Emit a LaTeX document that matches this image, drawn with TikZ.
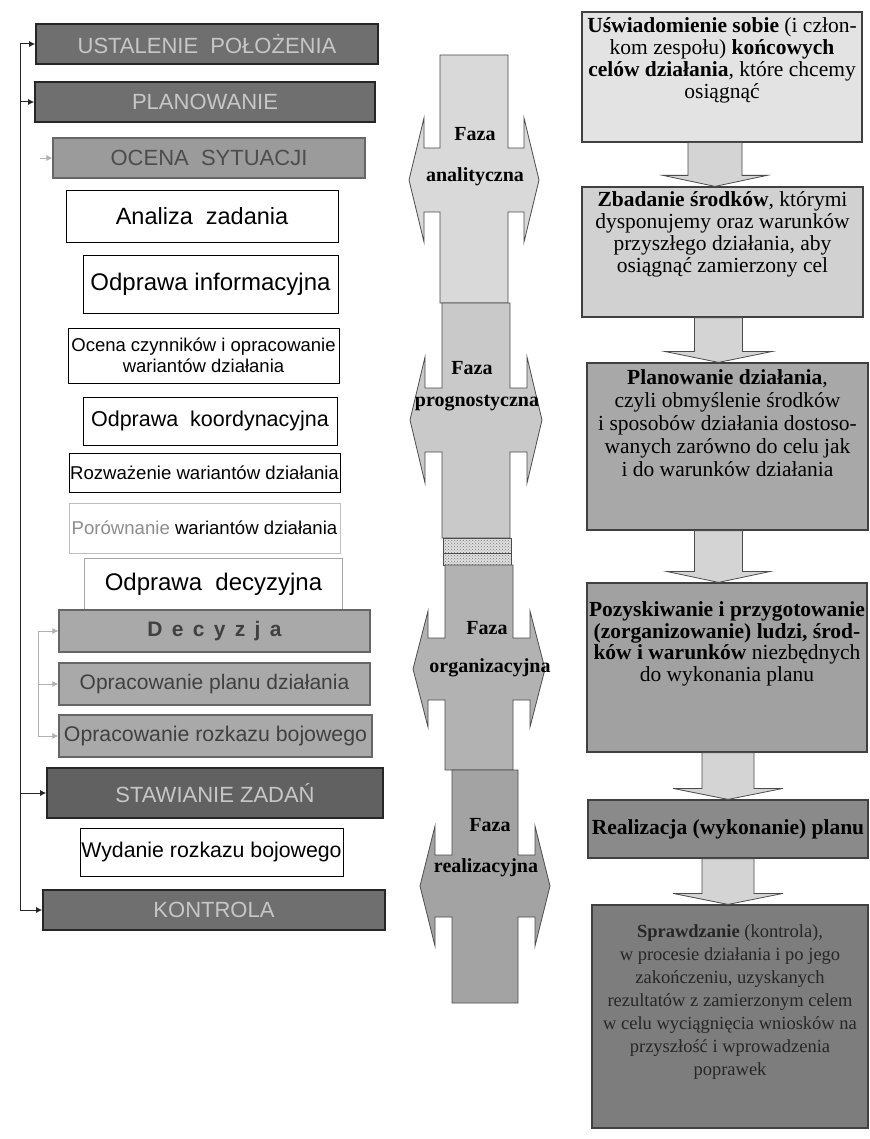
\documentclass[tikz,border=0pt]{standalone}
\usepackage{fontspec}
\setmainfont{Liberation Serif}
\newfontfamily\arialf{Liberation Sans}
\usetikzlibrary{arrows.meta,calc,patterns}
\definecolor{darkfill}{HTML}{6F6F6F}
\definecolor{midfill}{HTML}{A9A9A9}
\definecolor{ocfill}{HTML}{9B9B9B}
\newcommand{\zqseg}[9]{%
 \pgfmathsetmacro{\zqcx}{(#1+#2)/2}%
 \pgfmathsetmacro{\zqlt}{\zqcx-#8}%
 \pgfmathsetmacro{\zqrt}{\zqcx+#8}%
 \pgfmathsetmacro{\zqlh}{\zqcx-#8+15}%
 \pgfmathsetmacro{\zqrh}{\zqcx+#8-15}%
 \pgfmathsetmacro{\zqnt}{#5-#6}%
 \pgfmathsetmacro{\zqnb}{#5+#6}%
 \pgfmathsetmacro{\zqht}{#5-#7}%
 \pgfmathsetmacro{\zqhb}{#5+#7}%
 \filldraw[phase, fill=#9] (#1,#3) -- (#2,#3) -- (#2,\zqnt) -- (\zqrh,\zqnt) -- (\zqrh,\zqht) -- (\zqrt,#5) -- (\zqrh,\zqhb) -- (\zqrh,\zqnb) -- (#2,\zqnb) -- (#2,#4) -- (#1,#4) -- (#1,\zqnb) -- (\zqlh,\zqnb) -- (\zqlh,\zqhb) -- (\zqlt,#5) -- (\zqlh,\zqht) -- (\zqlh,\zqnt) -- (#1,\zqnt) -- cycle;
}
\newcommand{\zqdown}[5]{%
 \filldraw[darrow] let \p1=($(#1.south)+(#3,0)$), \p2=($(#2.north)+(#3,0)$) in
 (\x1-#4pt,\y1) -- (\x1+#4pt,\y1) -- (\x1+#4pt,\y2+11pt) -- (\x1+#5pt,\y2+11pt) -- (\x1,\y2) -- (\x1-#5pt,\y2+11pt) -- (\x1-#4pt,\y2+11pt) -- cycle;
}
\begin{document}
\begin{tikzpicture}[x=1pt,y=-1pt,
  lbox/.style={draw=black, line width=0.9pt, fill=white, inner sep=0pt, align=center},
  darkbox/.style={draw=black!85, line width=1.6pt, fill=darkfill, inner sep=0pt, text=black!22},
  midbox/.style={draw=black!60, line width=1.2pt, fill=midfill, inner sep=0pt, text=black!75},
  rbox/.style={draw=black!75, line width=1.2pt, inner sep=0pt},
  rtext/.style={inner sep=0pt, align=center, anchor=north, font=\fontsize{21.5}{22}\selectfont},
  spine/.style={line width=1pt, draw=black!85},
  tip/.style={-{Latex[length=6pt,width=6pt]}},
  faint/.style={draw=black!30, line width=0.9pt},
  phase/.style={draw=black!70, line width=0.8pt},
  plabel/.style={inner sep=0pt, font=\bfseries\fontsize{20}{22}\selectfont},
  darrow/.style={fill=black!17, draw=black!70, line width=0.8pt}]
\fill[white] (0,0) rectangle (869,1139);
\useasboundingbox (0,0) rectangle (869,1139);

% ---------- left column ----------
\node[darkbox, minimum width=342pt, minimum height=40pt, font=\arialf\fontsize{22}{24}\selectfont] (ustal) at (207,44) {USTALENIE\ \ POŁOŻENIA};
\node[darkbox, minimum width=340pt, minimum height=40pt, font=\arialf\fontsize{22}{24}\selectfont] (plan) at (205,102) {PLANOWANIE};
\node[midbox, fill=ocfill, text=black!70, minimum width=312pt, minimum height=40pt, font=\arialf\fontsize{22}{24}\selectfont] (ocena) at (209,158) {OCENA\ \ SYTUACJI};
\node[lbox, minimum width=272pt, minimum height=52pt, font=\arialf\fontsize{23.5}{25}\selectfont] (analiza) at (202,216) {Analiza\ \ zadania};
\node[lbox, minimum width=255pt, minimum height=58pt, font=\arialf\fontsize{24}{26}\selectfont] (odinf) at (210.5,284) {Odprawa informacyjna};
\node[lbox, minimum width=271pt, minimum height=55pt, font=\arialf\fontsize{18.5}{21}\selectfont] (ocenacz) at (203.5,355.5) {Ocena czynników i opracowanie\\wariantów działania};
\node[lbox, minimum width=254pt, minimum height=48pt, font=\arialf\fontsize{21.5}{24}\selectfont] (odkoord) at (210,421) {Odprawa\ \ koordynacyjna};
\node[lbox, minimum width=271pt, minimum height=39pt, font=\arialf\fontsize{18.6}{21}\selectfont] (rozw) at (204.5,472.5) {Rozważenie wariantów działania};
\node[lbox, draw=black!25, minimum width=271pt, minimum height=50pt, font=\arialf\fontsize{18.6}{21}\selectfont] (porown) at (204.5,528) {\textcolor{black!45}{Porównanie} wariantów działania};
\node[inner sep=0pt, minimum width=257pt, minimum height=51pt, font=\arialf\fontsize{24}{26}\selectfont] (oddec) at (213.5,584.5) {Odprawa\ \ decyzyjna};
\draw[black!35, line width=0.9pt] (oddec.south west) |- (oddec.north east) -- (oddec.south east);
\node[midbox, minimum width=311pt, minimum height=42pt, font=\arialf\bfseries\fontsize{21}{24}\selectfont] (decyzja) at (214.5,631) {D\,\ e\,\ c\,\ y\,\ z\,\ j\,\ a};
\node[midbox, minimum width=311pt, minimum height=42pt, font=\arialf\fontsize{21}{24}\selectfont] (opplan) at (214.5,684) {Opracowanie planu działania};
\node[midbox, minimum width=313pt, minimum height=42pt, font=\arialf\fontsize{21.3}{24}\selectfont] (oproz) at (215.5,736) {Opracowanie rozkazu bojowego};
\node[darkbox, fill=darkfill!110, minimum width=336pt, minimum height=50pt, font=\arialf\fontsize{22}{24}\selectfont] (staw) at (215,793) {STAWIANIE ZADAŃ};
\node[lbox, minimum width=263pt, minimum height=48pt, font=\arialf\fontsize{21.3}{24}\selectfont] (wydanie) at (211.5,852) {Wydanie rozkazu bojowego};
\node[darkbox, minimum width=342pt, minimum height=40pt, font=\arialf\fontsize{22}{24}\selectfont] (kontrol) at (214,910) {KONTROLA};

% spine connectors
\coordinate (sTop) at (20,44);
\coordinate (sBot) at (20,910);
\draw[spine] (sTop) -- (sBot);
\draw[spine,tip] (sTop) -- (ustal.west);
\draw[spine,tip] (plan.west -| sTop) -- (plan.west);
\draw[spine,tip] (staw.west -| sTop) -- (staw.west);
\draw[spine,tip] (sBot) -- (kontrol.west);
% faint connectors
\coordinate (oc0) at (40,158);
\draw[faint,tip] (oc0) -- (ocena.west);
\coordinate (bx) at (38,0);
\draw[faint] (decyzja.west -| bx) -- (oproz.west -| bx);
\draw[faint,tip] (decyzja.west -| bx) -- (decyzja.west);
\draw[faint,tip] (opplan.west -| bx) -- (opplan.west);
\draw[faint,tip] (oproz.west -| bx) -- (oproz.west);

% ---------- centre column ----------
\zqseg{440}{508}{55}{303}{180}{32}{62}{65}{black!15}
\zqseg{442}{510}{303}{538}{420}{32}{63}{66}{black!21}
\fill[black!12] (443,538) rectangle (511,565);
\fill[pattern=crosshatch dots, pattern color=black!55] (443,538) rectangle (511,565);
\draw[phase] (443,538) rectangle (511,565);
\draw[phase] (443,553) -- (511,553);
\zqseg{445}{513}{565}{770}{669}{31}{58}{66}{black!30}
\zqseg{452}{518}{770}{1003}{886}{31}{60}{65}{black!36}

\node[plabel] (f1a) at (475,134) {Faza};
\node[plabel] (f1b) at (475,177) {analityczna};
\node[plabel] (f2a) at (472,368) {Faza};
\node[plabel] (f2b) at (477,403) {prognostyczna};
\node[plabel] (f3a) at (487,628) {Faza};
\node[plabel] (f3b) at (490,668) {organizacyjna};
\node[plabel] (f4a) at (490,825) {Faza};
\node[plabel] (f4b) at (486,868) {realizacyjna};

% ---------- right column ----------
\node[rbox, fill=black!11, minimum width=280pt, minimum height=130pt] (r1) at (722,77) {};
\node[rbox, fill=black!18, minimum width=281pt, minimum height=130pt] (r2) at (722.5,252) {};
\node[rbox, fill=black!34, minimum width=281pt, minimum height=167pt] (r3) at (727.5,446.5) {};
\node[rbox, fill=black!37, minimum width=280pt, minimum height=169pt] (r4) at (727,667.5) {};
\node[rbox, fill=black!46, minimum width=280pt, minimum height=58pt] (r5) at (728,829) {};
\node[rbox, fill=black!51, minimum width=276pt, minimum height=223pt] (r6) at (730,1016.5) {};

\node[rtext] (r1t) at ($(r1.north)+(0,6)$) {\textbf{Uświadomienie sobie} (i człon-\\kom zespołu) \textbf{końcowych}\\\textbf{celów działania}, które chcemy\\osiągnąć};
\node[rtext] (r2t) at ($(r2.north)+(0,5)$) {\textbf{Zbadanie środków}, którymi\\dysponujemy oraz warunków\\przyszłego działania, aby\\osiągnąć zamierzony cel};
\node[rtext, font=\fontsize{21.5}{23}\selectfont] (r3t) at ($(r3.north)+(0,7)$) {\textbf{Planowanie działania},\\czyli obmyślenie środków\\i sposobów działania dostoso-\\wanych zarówno do celu jak\\i do warunków działania};
\node[rtext, font=\fontsize{21.5}{21.5}\selectfont] (r4t) at ($(r4.north)+(0,19)$) {\textbf{Pozyskiwanie i przygotowanie}\\\textbf{(zorganizowanie) ludzi, środ-}\\\textbf{ków i warunków} niezbędnych\\do wykonania planu};
\node[inner sep=0pt, font=\bfseries\fontsize{21.5}{22}\selectfont] (r5t) at (r5.center) {Realizacja (wykonanie) planu};
\node[rtext, font=\fontsize{18.5}{23}\selectfont, text=black!85] (r6t) at ($(r6.north)+(0,20)$) {\textbf{Sprawdzanie} (kontrola),\\w procesie działania i po jego\\zakończeniu, uzyskanych\\rezultatów z zamierzonym celem\\w celu wyciągnięcia wniosków na\\przyszłość i wprowadzenia\\poprawek};

\zqdown{r1}{r2}{-7}{27}{52}
\zqdown{r2}{r3}{-4}{24}{54}
\zqdown{r3}{r4}{-9}{24}{52}
\zqdown{r4}{r5}{1}{26}{55}
\zqdown{r5}{r6}{0}{26}{55}
\end{tikzpicture}
\end{document}
